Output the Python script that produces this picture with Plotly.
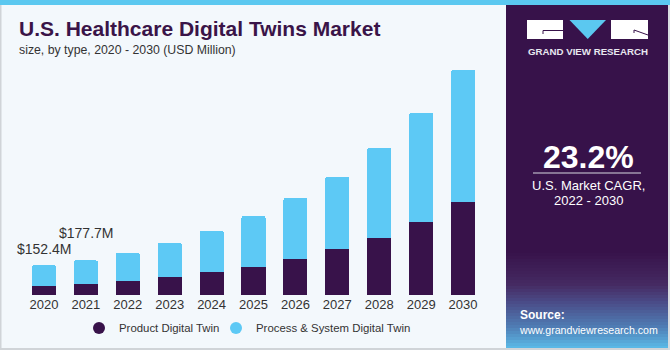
import plotly.graph_objects as go

years = ["2020", "2021", "2022", "2023", "2024", "2025", "2026", "2027", "2028", "2029", "2030"]
product = [48, 58, 70, 90, 120, 142, 185, 236, 294, 376, 479]
process = [104.4, 119.7, 145, 177, 210, 263, 313, 371, 460, 559, 675]
label_years = ["2020", "2021"]
label_values = [152.4, 177.7]
label_texts = ["$152.4M", "$177.7M"]
series_names = ["Product Digital Twin", "Process & System Digital Twin"]

DARK = "#38124a"
LIGHT = "#5dc9f5"
BG = "#f3f8fc"
FONT = "Liberation Sans, Arial, sans-serif"

W, H = 670, 350
L, R, T, B = 23, 186, 60, 55
pw, ph = W - L - R, H - T - B


def X(px):
    return (px - L) / pw


def Y(py):
    return (H - B - py) / ph


fig = go.Figure()
fig.add_trace(go.Bar(x=years, y=product, marker=dict(color=DARK, line=dict(width=0)),
                     showlegend=False, hoverinfo="skip"))
fig.add_trace(go.Bar(x=years, y=process, marker=dict(color=LIGHT, line=dict(width=0)),
                     showlegend=False, hoverinfo="skip"))
for name, col, lg in zip(series_names, [DARK, LIGHT], ["legend", "legend2"]):
    fig.add_trace(go.Scatter(x=[None], y=[None], mode="markers", name=name, legend=lg,
                             marker=dict(symbol="circle", size=11, color=col)))

shapes = []
# right dark panel
shapes.append(dict(type="rect", xref="paper", yref="paper", x0=X(506), x1=X(668), y0=Y(350), y1=Y(0),
                   fillcolor="#37124a", line=dict(width=0), layer="below"))


def hex2rgb(h):
    h = h.lstrip("#")
    return tuple(int(h[i:i + 2], 16) for i in (0, 2, 4))


stops = [(250, "#37124a"), (283, "#452a62"), (300, "#4a4a86"), (325, "#4f7cb4"), (347, "#5bbbe8")]
y = 250
while y < 347:
    for (a, ca), (b, cb) in zip(stops[:-1], stops[1:]):
        if a <= y < b:
            t = (y - a) / (b - a)
            c1, c2 = hex2rgb(ca), hex2rgb(cb)
            c = tuple(round(c1[i] + (c2[i] - c1[i]) * t) for i in range(3))
            break
    shapes.append(dict(type="rect", xref="paper", yref="paper", x0=X(506), x1=X(668),
                       y0=Y(y + 3), y1=Y(y), fillcolor="rgb(%d,%d,%d)" % c, line=dict(width=0), layer="below"))
    y += 3

# top stripe
shapes.append(dict(type="rect", xref="paper", yref="paper", x0=X(0), x1=X(670), y0=Y(5), y1=Y(0),
                   fillcolor="#5bc8f0", line=dict(width=0), layer="below"))
# borders
shapes.append(dict(type="rect", xref="paper", yref="paper", x0=X(0), x1=X(1.5), y0=Y(350), y1=Y(5),
                   fillcolor="#d0d4d8", line=dict(width=0), layer="below"))
shapes.append(dict(type="rect", xref="paper", yref="paper", x0=X(0), x1=X(670), y0=Y(350), y1=Y(348),
                   fillcolor="#d0d4d8", line=dict(width=0), layer="below"))
shapes.append(dict(type="rect", xref="paper", yref="paper", x0=X(668), x1=X(670), y0=Y(350), y1=Y(5),
                   fillcolor="#d8dce0", line=dict(width=0), layer="below"))
# logo
shapes.append(dict(type="rect", xref="paper", yref="paper", x0=X(527), x1=X(563), y0=Y(39), y1=Y(20),
                   fillcolor="white", line=dict(width=0)))
shapes.append(dict(type="rect", xref="paper", yref="paper", x0=X(611), x1=X(648), y0=Y(39), y1=Y(20),
                   fillcolor="white", line=dict(width=0)))
shapes.append(dict(type="path", xref="paper", yref="paper",
                   path="M %f,%f L %f,%f L %f,%f Z" % (X(569.5), Y(20), X(606), Y(20), X(587.7), Y(39)),
                   fillcolor="#5bc8f0", line=dict(width=0)))
shapes.append(dict(type="line", xref="paper", yref="paper", x0=X(543), x1=X(563), y0=Y(30.5), y1=Y(30.5),
                   line=dict(color="#37124a", width=1)))
shapes.append(dict(type="line", xref="paper", yref="paper", x0=X(543), x1=X(543), y0=Y(30.5), y1=Y(34),
                   line=dict(color="#37124a", width=1)))
shapes.append(dict(type="line", xref="paper", yref="paper", x0=X(634), x1=X(648), y0=Y(30), y1=Y(35),
                   line=dict(color="#37124a", width=1)))
shapes.append(dict(type="line", xref="paper", yref="paper", x0=X(634), x1=X(634), y0=Y(30), y1=Y(33),
                   line=dict(color="#37124a", width=1)))
# CAGR divider
shapes.append(dict(type="line", xref="paper", yref="paper", x0=X(533), x1=X(641), y0=Y(173), y1=Y(173),
                   line=dict(color="#d8d8e0", width=1)))

annotations = []
for yr, v, txt, sh in zip(label_years, label_values, label_texts, [6, 17]):
    annotations.append(dict(x=years.index(yr), y=v, xref="x", yref="y", text=txt, showarrow=False,
                            yanchor="bottom", yshift=sh, font=dict(size=14, color="#333333", family=FONT)))

annotations.append(dict(x=X(17), y=Y(28), xref="paper", yref="paper", xanchor="left", yanchor="middle",
                        text="<b>U.S. Healthcare Digital Twins Market</b>", showarrow=False,
                        font=dict(size=21, color="#3a1448", family=FONT)))
annotations.append(dict(x=X(17), y=Y(50), xref="paper", yref="paper", xanchor="left", yanchor="middle",
                        text="size, by type, 2020 - 2030 (USD Million)", showarrow=False,
                        font=dict(size=12.3, color="#333333", family=FONT)))
annotations.append(dict(x=X(587.5), y=Y(52), xref="paper", yref="paper", xanchor="center", yanchor="middle",
                        text="<b>GRAND VIEW RESEARCH</b>", showarrow=False,
                        font=dict(size=9.7, color="#e8e8f0", family=FONT)))
annotations.append(dict(x=X(588), y=Y(157), xref="paper", yref="paper", xanchor="center", yanchor="middle",
                        text="<b>23.2%</b>", showarrow=False,
                        font=dict(size=32, color="white", family=FONT)))
annotations.append(dict(x=X(588), y=Y(185), xref="paper", yref="paper", xanchor="center", yanchor="middle",
                        text="U.S. Market CAGR,", showarrow=False,
                        font=dict(size=13, color="white", family=FONT)))
annotations.append(dict(x=X(588), y=Y(200), xref="paper", yref="paper", xanchor="center", yanchor="middle",
                        text="2022 - 2030", showarrow=False,
                        font=dict(size=13, color="white", family=FONT)))
annotations.append(dict(x=X(518), y=Y(315), xref="paper", yref="paper", xanchor="left", yanchor="middle",
                        text="<b>Source:</b>", showarrow=False,
                        font=dict(size=12, color="white", family=FONT)))
annotations.append(dict(x=X(517), y=Y(330), xref="paper", yref="paper", xanchor="left", yanchor="middle",
                        text="www.grandviewresearch.com", showarrow=False,
                        font=dict(size=10.6, color="white", family=FONT)))

legend_style = dict(orientation="h", xanchor="left", yanchor="middle", y=Y(328),
                    font=dict(size=11.4, color="#333333", family=FONT), bgcolor="rgba(0,0,0,0)",
                    itemsizing="constant")

fig.update_layout(
    width=W, height=H,
    margin=dict(l=L, r=R, t=T, b=B, pad=0, autoexpand=False),
    paper_bgcolor=BG, plot_bgcolor=BG,
    barmode="stack", bargap=0.427, barcornerradius=2,
    font=dict(family=FONT, color="#333333"),
    xaxis=dict(type="category", range=[-0.5, 10.5], showgrid=False, zeroline=False, showline=False,
               ticks="", tickfont=dict(size=13, color="#333333", family=FONT)),
    yaxis=dict(range=[0, 1205], visible=False, showgrid=False, zeroline=False),
    legend=dict(x=X(79), **legend_style),
    legend2=dict(x=X(216), **legend_style),
    shapes=shapes, annotations=annotations,
    showlegend=True,
)

fig.write_html("out.html")
